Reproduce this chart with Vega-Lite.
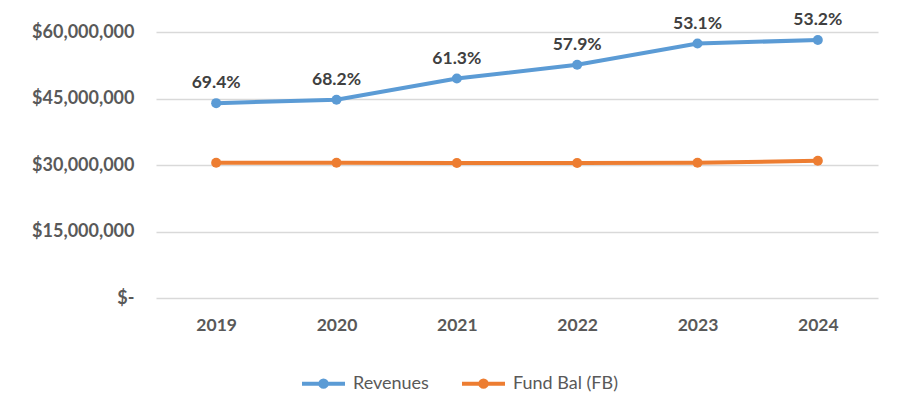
{
  "$schema": "https://vega.github.io/schema/vega-lite/v6.json",
  "autosize": "none",
  "width": 722,
  "height": 266,
  "padding": {"left": 156, "top": 32, "right": 21, "bottom": 114},
  "background": "white",
  "config": {
    "view": {"stroke": null},
    "font": "Lato",
    "axis": {"labelFont": "Lato", "labelColor": "#595959", "labelFontWeight": "bold", "labelFontSize": 17.5}
  },
  "data": {
    "values": [
      {"year": "2019", "series": "Revenues", "value": 43950000, "label": "69.4%"},
      {"year": "2020", "series": "Revenues", "value": 44700000, "label": "68.2%"},
      {"year": "2021", "series": "Revenues", "value": 49500000, "label": "61.3%"},
      {"year": "2022", "series": "Revenues", "value": 52600000, "label": "57.9%"},
      {"year": "2023", "series": "Revenues", "value": 57400000, "label": "53.1%"},
      {"year": "2024", "series": "Revenues", "value": 58200000, "label": "53.2%"},
      {"year": "2019", "series": "Fund Bal (FB)", "value": 30500000, "label": ""},
      {"year": "2020", "series": "Fund Bal (FB)", "value": 30500000, "label": ""},
      {"year": "2021", "series": "Fund Bal (FB)", "value": 30450000, "label": ""},
      {"year": "2022", "series": "Fund Bal (FB)", "value": 30450000, "label": ""},
      {"year": "2023", "series": "Fund Bal (FB)", "value": 30500000, "label": ""},
      {"year": "2024", "series": "Fund Bal (FB)", "value": 30950000, "label": ""}
    ]
  },
  "encoding": {
    "x": {
      "field": "year", "type": "ordinal",
      "scale": {"type": "point", "padding": 0.5},
      "axis": {"title": null, "labelAngle": 0, "domain": false, "ticks": false, "labelPadding": 18, "grid": false}
    },
    "y": {
      "field": "value", "type": "quantitative",
      "scale": {"domain": [0, 60000000], "nice": false},
      "axis": {
        "title": null, "values": [0, 15000000, 30000000, 45000000, 60000000],
        "labelExpr": "datum.value == 0 ? '$-' : '$' + format(datum.value, ',')",
        "labelFontSize": 18,
        "domain": false, "ticks": false, "labelPadding": 22,
        "grid": true, "gridColor": "#d9d9d9", "gridWidth": 1.5
      }
    }
  },
  "layer": [
    {
      "mark": {"type": "line", "strokeWidth": 4, "point": {"size": 100, "filled": true}},
      "encoding": {
        "color": {
          "field": "series", "type": "nominal",
          "scale": {"domain": ["Revenues", "Fund Bal (FB)"], "range": ["#5B9BD5", "#ED7D31"]},
          "legend": {
            "title": null, "orient": "none", "direction": "horizontal",
            "legendX": 144, "legendY": 328,
            "labelFont": "Lato", "labelFontSize": 18, "labelColor": "#595959",
            "symbolType": "M-1,0H1M0.15,0A0.15,0.15 0 1,1 -0.15,0A0.15,0.15 0 1,1 0.15,0",
            "symbolSize": 1849, "symbolStrokeWidth": 4, "columnPadding": 25, "labelOffset": 6
          }
        }
      }
    },
    {
      "transform": [{"filter": "datum.series == 'Revenues'"}],
      "mark": {"type": "text", "dy": -20, "font": "Lato", "fontWeight": "bold", "fontSize": 17.5, "color": "#404040"},
      "encoding": {"text": {"field": "label"}}
    }
  ]
}
